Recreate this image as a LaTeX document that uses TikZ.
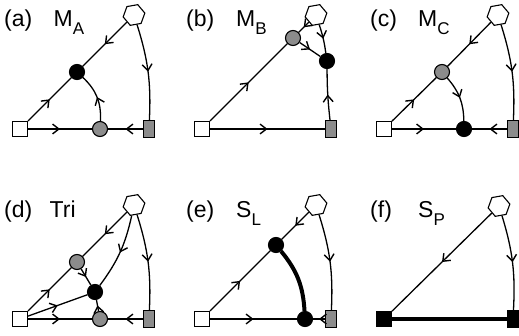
\documentclass[tikz,border=0pt]{standalone}
\usepackage{fontspec}
\setmainfont{Liberation Sans}
\usetikzlibrary{decorations.markings,arrows.meta,shapes.geometric}
\definecolor{ng}{RGB}{140,140,140}
\tikzset{
 hexn/.style={regular polygon, regular polygon sides=6, draw, fill=white, minimum size=22pt, inner sep=0pt, line width=1.1pt, shape border rotate=10},
 sqn/.style={rectangle, draw, fill=white, minimum size=15pt, inner sep=0pt, line width=1.1pt},
 rectn/.style={rectangle, draw, fill=ng, minimum width=11pt, minimum height=17pt, inner sep=0pt, line width=1.1pt},
 gcn/.style={circle, draw, fill=ng, minimum size=15pt, inner sep=0pt, line width=1.1pt},
 bcn/.style={circle, draw, fill=black, minimum size=15pt, inner sep=0pt, line width=1.1pt},
 bsq/.style={rectangle, draw, fill=black, minimum size=15pt, inner sep=0pt, line width=1.1pt},
 brect/.style={rectangle, draw, fill=black, minimum width=11pt, minimum height=17pt, inner sep=0pt, line width=1.1pt},
 ed/.style={line width=1.3pt, postaction={decorate}, decoration={markings, mark=at position 0.5 with {\arrow{Straight Barb[angle=76:8pt,line width=1.4pt]}}}},
 thk/.style={line width=4pt},
 lab/.style={anchor=base west, inner sep=0pt, font=\fontsize{23}{27}\selectfont},
}
\newcommand{\subx}[1]{\raisebox{-8pt}{\fontsize{17}{17}\selectfont #1}}
\begin{document}
\begin{tikzpicture}[x=1pt,y=1pt]
\useasboundingbox (0,0) rectangle (519,335);
% (a)
\begin{scope}[shift={(20,206)}]
\node[lab] (a-l) at (-16,102) {(a)};
\node[lab] (a-t) at (33.5,102) {M\subx{A}};
\node[sqn] (a-sq) at (0,0) {};
\node[rectn] (a-rt) at (129,0) {};
\node[hexn] (a-hx) at (114,114) {};
\node[bcn] (a-b) at (57,57) {};
\node[gcn] (a-g) at (80,0) {};
\draw[ed] (a-hx) -- (a-b);
\draw[ed] (a-sq) -- (a-b);
\draw[ed] (a-g) to[bend right=25] (a-b);
\draw[ed] (a-sq) -- (a-g);
\draw[ed] (a-rt) -- (a-g);
\draw[ed] (a-hx) to[bend left=10] (a-rt);
\end{scope}
% (b)
\begin{scope}[shift={(202,206)}]
\node[lab] (b-l) at (-16,102) {(b)};
\node[lab] (b-t) at (34,102) {M\subx{B}};
\node[sqn] (b-sq) at (0,0) {};
\node[rectn] (b-rt) at (129,0) {};
\node[hexn] (b-hx) at (114,114) {};
\node[gcn] (b-g) at (91,91) {};
\node[bcn] (b-b) at (125,68) {};
\draw[ed] (b-hx) -- (b-g);
\draw[ed] (b-sq) -- (b-g);
\draw[ed] (b-g) -- (b-b);
\draw[ed] (b-hx) to[bend left=5] (b-b);
\draw[ed] (b-rt) to[bend left=3] (b-b);
\draw[ed] (b-sq) -- (b-rt);
\end{scope}
% (c)
\begin{scope}[shift={(384,206)}]
\node[lab] (c-l) at (-14,102) {(c)};
\node[lab] (c-t) at (34,102) {M\subx{C}};
\node[sqn] (c-sq) at (0,0) {};
\node[rectn] (c-rt) at (129,0) {};
\node[hexn] (c-hx) at (114,114) {};
\node[gcn] (c-g) at (58,57) {};
\node[bcn] (c-b) at (80,0) {};
\draw[ed] (c-hx) -- (c-g);
\draw[ed] (c-sq) -- (c-g);
\draw[ed] (c-g) to[bend left=20] (c-b);
\draw[ed] (c-sq) -- (c-b);
\draw[ed] (c-rt) -- (c-b);
\draw[ed] (c-hx) to[bend left=10] (c-rt);
\end{scope}
% (d)
\begin{scope}[shift={(20,16)}]
\node[lab] (d-l) at (-16,102) {(d)};
\node[lab] (d-t) at (29.5,102) {Tri};
\node[sqn] (d-sq) at (0,0) {};
\node[rectn] (d-rt) at (129,0) {};
\node[hexn] (d-hx) at (114,114) {};
\node[gcn] (d-g1) at (57,57) {};
\node[bcn] (d-b) at (75,27) {};
\node[gcn] (d-g2) at (80,0) {};
\draw[ed] (d-hx) -- (d-g1);
\draw[ed] (d-sq) -- (d-g1);
\draw[ed] (d-hx) to[bend left=12] (d-b);
\draw[ed] (d-g1) -- (d-b);
\draw[ed] (d-sq) -- (d-b);
\draw[ed] (d-g2) -- (d-b);
\draw[ed] (d-sq) -- (d-g2);
\draw[ed] (d-rt) -- (d-g2);
\draw[ed] (d-hx) to[bend left=10] (d-rt);
\end{scope}
% (e)
\begin{scope}[shift={(202,16)}]
\node[lab] (e-l) at (-16,102) {(e)};
\node[lab] (e-t) at (34,102) {S\subx{L}};
\node[sqn] (e-sq) at (0,0) {};
\node[rectn] (e-rt) at (129,0) {};
\node[hexn] (e-hx) at (114,114) {};
\node[bcn] (e-b1) at (74,74) {};
\node[bcn] (e-b2) at (103,0) {};
\draw[ed] (e-hx) -- (e-b1);
\draw[ed] (e-sq) -- (e-b1);
\draw[thk] (e-b1) to[bend left=18] (e-b2);
\draw[ed] (e-sq) -- (e-b2);
\draw[ed] (e-rt) -- (e-b2);
\draw[ed] (e-hx) to[bend left=10] (e-rt);
\end{scope}
% (f)
\begin{scope}[shift={(384,16)}]
\node[lab] (f-l) at (-14,102) {(f)};
\node[lab] (f-t) at (34,102) {S\subx{P}};
\node[bsq] (f-sq) at (0,0) {};
\node[brect] (f-rt) at (129,0) {};
\node[hexn] (f-hx) at (115,113) {};
\draw[ed] (f-hx) -- (f-sq);
\draw[thk] (f-sq) -- (f-rt);
\draw[ed] (f-hx) to[bend left=10] (f-rt);
\end{scope}
\end{tikzpicture}
\end{document}
